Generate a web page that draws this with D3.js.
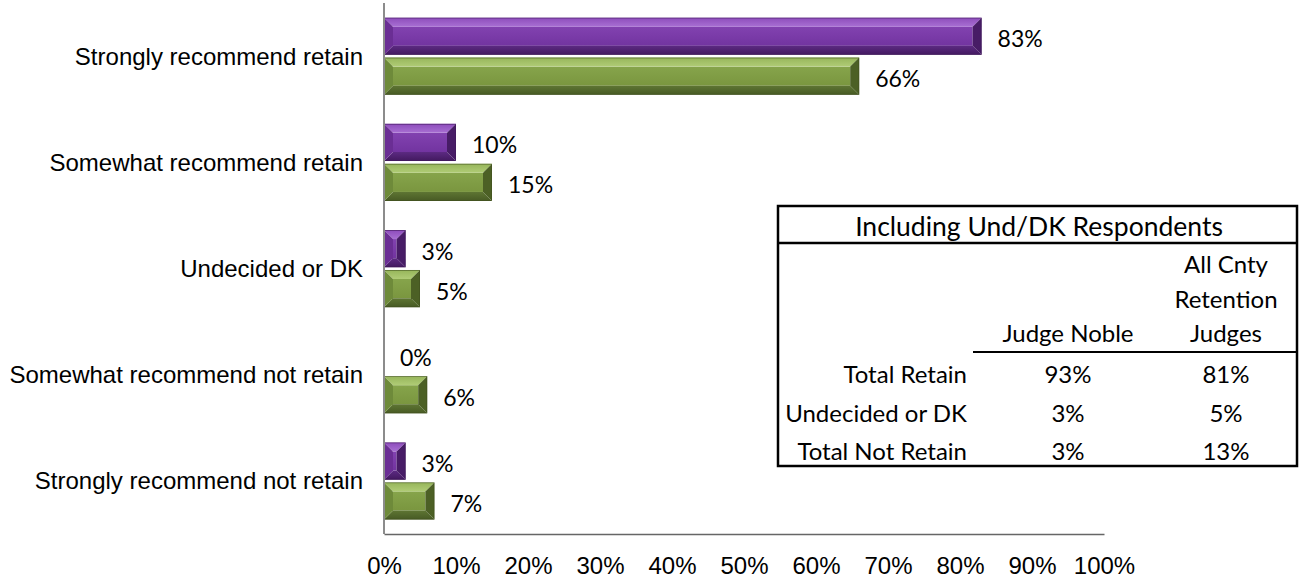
<!DOCTYPE html>
<html>
<head>
<meta charset="utf-8">
<script src="https://cdn.jsdelivr.net/npm/d3@7"></script>
<style>
  html, body { margin: 0; padding: 0; background: #fff; }
  svg { display: block; }
</style>
</head>
<body>
<svg id="chart" width="1305" height="580"></svg>
<script>
// ---------- data ----------
const categories = [
  "Strongly recommend retain",
  "Somewhat recommend retain",
  "Undecided or DK",
  "Somewhat recommend not retain",
  "Strongly recommend not retain"
];
const judgeNoble = [83, 10, 3, 0, 3];
const allCntyJudges = [66, 15, 5, 6, 7];
const xTicks = [0, 10, 20, 30, 40, 50, 60, 70, 80, 90, 100];

const tableTitle = "Including Und/DK Respondents";
const tableHeadNoble = ["Judge Noble"];
const tableHeadAll = ["All Cnty", "Retention", "Judges"];
const tableRowLabels = ["Total Retain", "Undecided or DK", "Total Not Retain"];
const tableNoble = ["93%", "3%", "3%"];
const tableAll = ["81%", "5%", "13%"];

// ---------- setup ----------
const svg = d3.select("#chart");
const x = d3.scaleLinear().domain([0, 100]).range([384, 1104]);
const y = d3.scaleBand().domain(categories).range([3, 534]);

const series = [
  { key: "noble", values: judgeNoble, off: -0.362,
    top: ["#8d4cbb", "#a86fd3"], face: ["#8242b0", "#7234a0"], bottom: ["#5c2a82", "#42195f"],
    left: "#6a2e94", right: "#471c66", edge: "#3e1858" },
  { key: "all", values: allCntyJudges, off: 0.014,
    top: ["#96b55a", "#b0cc76"], face: ["#86a44b", "#7a963f"], bottom: ["#5e7533", "#475a24"],
    left: "#6e8a3a", right: "#4c6025", edge: "#405020" }
];

const defs = svg.append("defs");
function vgrad(id, c0, c1) {
  const g = defs.append("linearGradient").attr("id", id)
    .attr("x1", 0).attr("y1", 0).attr("x2", 0).attr("y2", 1);
  g.append("stop").attr("offset", "0%").attr("stop-color", c0);
  g.append("stop").attr("offset", "100%").attr("stop-color", c1);
}
series.forEach(s => {
  vgrad("top-" + s.key, s.top[0], s.top[1]);
  vgrad("face-" + s.key, s.face[0], s.face[1]);
  vgrad("bot-" + s.key, s.bottom[0], s.bottom[1]);
});

// ---------- category labels ----------
svg.append("g").selectAll("text").data(categories).join("text")
  .attr("x", 363)
  .attr("y", d => y(d) + y.bandwidth() / 2)
  .attr("text-anchor", "end")
  .attr("dominant-baseline", "central")
  .attr("font-family", "'Liberation Sans', Arial, sans-serif")
  .attr("font-size", 24)
  .attr("fill", "#000")
  .text(d => d);

// ---------- bars ----------
const barH = y.bandwidth() * 0.35;
series.forEach(s => {
  const g = svg.append("g");
  categories.forEach((c, i) => {
    const v = s.values[i];
    const x0 = x(0), x1 = x(v);
    const w = x1 - x0;
    const y0 = y(c) + y.bandwidth() / 2 + s.off * y.bandwidth();
    const y1 = y0 + barH;
    if (w > 0) {
      const b = Math.min(9, w / 2, barH / 2);
      const poly = (pts, fill) => g.append("polygon").attr("points", pts.join(" ")).attr("fill", fill);
      // face
      g.append("rect").attr("x", x0 + b).attr("y", y0 + b)
        .attr("width", Math.max(0, w - 2 * b)).attr("height", Math.max(0, barH - 2 * b))
        .attr("fill", "url(#face-" + s.key + ")");
      // top facet
      poly([[x0, y0], [x1, y0], [x1 - b, y0 + b], [x0 + b, y0 + b]], "url(#top-" + s.key + ")");
      // bottom facet
      poly([[x0, y1], [x1, y1], [x1 - b, y1 - b], [x0 + b, y1 - b]], "url(#bot-" + s.key + ")");
      // left facet
      poly([[x0, y0], [x0 + b, y0 + b], [x0 + b, y1 - b], [x0, y1]], s.left);
      // right facet
      poly([[x1, y0], [x1 - b, y0 + b], [x1 - b, y1 - b], [x1, y1]], s.right);
      g.append("rect").attr("x", x0 + 0.4).attr("y", y0 + 0.4).attr("width", w - 0.8).attr("height", barH - 0.8)
        .attr("fill", "none").attr("stroke", s.edge).attr("stroke-width", 0.8).attr("opacity", 0.7);
    }
    g.append("text")
      .attr("x", x1 + 16)
      .attr("y", y0 + barH / 2 + 2)
      .attr("dominant-baseline", "central")
      .attr("font-family", "Lato, 'Open Sans', sans-serif")
      .attr("font-size", 23)
      .attr("fill", "#000")
      .text(v + "%");
  });
});

// ---------- axes ----------
svg.append("line")
  .attr("x1", x(0)).attr("x2", x(0)).attr("y1", 3).attr("y2", 534)
  .attr("stroke", "#8c8c8c").attr("stroke-width", 2);

const xAxis = d3.axisBottom(x).tickValues(xTicks).tickSize(0).tickPadding(23)
  .tickFormat(d => d + "%");
const ax = svg.append("g").attr("transform", "translate(0,534)").call(xAxis);
ax.select(".domain").attr("stroke", "#666").attr("stroke-width", 1.3);
ax.selectAll("text")
  .attr("font-family", "'Liberation Sans', Arial, sans-serif")
  .attr("font-size", 24).attr("fill", "#000");

// ---------- table ----------
const T = { l: 778, r: 1297, t: 206, hd: 243, b: 466 };
const tg = svg.append("g");
const font = "Lato, 'Open Sans', sans-serif";
tg.append("rect").attr("x", T.l).attr("y", T.t).attr("width", T.r - T.l).attr("height", T.b - T.t)
  .attr("fill", "#fff").attr("stroke", "#000").attr("stroke-width", 2.5);
tg.append("line").attr("x1", T.l).attr("x2", T.r).attr("y1", T.hd).attr("y2", T.hd)
  .attr("stroke", "#000").attr("stroke-width", 2.5);
tg.append("line").attr("x1", 973).attr("x2", T.r).attr("y1", 352).attr("y2", 352)
  .attr("stroke", "#000").attr("stroke-width", 2);

function tText(txt, xx, yy, anchor, size) {
  tg.append("text").attr("x", xx).attr("y", yy)
    .attr("text-anchor", anchor).attr("dominant-baseline", "central")
    .attr("font-family", font).attr("font-size", size || 24).attr("fill", "#000").text(txt);
}
tText(tableTitle, 1039, 226, "middle", 26.5);
const headY = [263, 298, 332];
tableHeadAll.forEach((t, i) => tText(t, 1226, headY[i], "middle"));
tText(tableHeadNoble[0], 1068, 332, "middle");
const rowY = [373, 412, 450];
tableRowLabels.forEach((t, i) => {
  tText(t, 967, rowY[i], "end");
  tText(tableNoble[i], 1068, rowY[i], "middle");
  tText(tableAll[i], 1226, rowY[i], "middle");
});
</script>
</body>
</html>
